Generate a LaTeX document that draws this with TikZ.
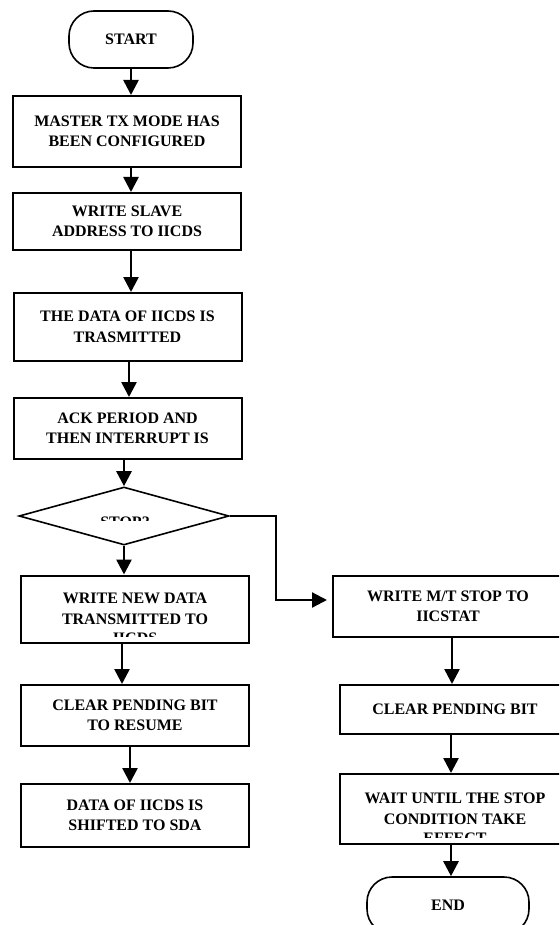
\documentclass[tikz,border=0pt]{standalone}
\usepackage{fontspec}
\setmainfont{Liberation Serif}
\usetikzlibrary{arrows.meta,shapes.geometric}

\begin{document}
\begin{tikzpicture}[x=1pt,y=-1pt]
        \useasboundingbox (0,0) rectangle (559,925);
        \clip (0,0) rectangle (559,925);
        \begin{scope}[every node/.style={rectangle,draw,line width=2pt,inner sep=0pt,align=center,
                minimum width=228,font=\bfseries\fontsize{16}{20.5}\selectfont}]
            \node (start) [rounded corners=25pt,line width=1.6pt,minimum width=124,minimum height=57] at (131,39.5) {START};
            \node (b1) [minimum height=71] at (127,131.5) {MASTER TX MODE HAS\\BEEN CONFIGURED};
            \node (b2) [minimum height=57] at (127,221.5) {WRITE SLAVE\\ADDRESS TO IICDS};
            \node (b3) [minimum height=68] at (127.5,327) {THE DATA OF IICDS IS\\TRASMITTED};
            \node (b4) [minimum height=61] at (127.5,428.5) {ACK PERIOD AND\\THEN INTERRUPT IS};
            \node (stop) [diamond,aspect=3.6,line width=1.6pt,minimum width=210,minimum height=58] at (124,516) {};
            \node (b5) [minimum height=67] at (135,609) {WRITE NEW DATA\\TRANSMITTED TO};
            \node (b6) [minimum height=61] at (135,715.5) {CLEAR PENDING BIT\\TO RESUME};
            \node (b7) [minimum height=63] at (135,815.5) {DATA OF IICDS IS\\SHIFTED TO SDA};
            \node (r1) [minimum width=230,minimum height=61] at (448,606.5) {WRITE M/T STOP TO\\IICSTAT};
            \node (r2) [minimum width=230,minimum height=49] at (455,709.5) {CLEAR PENDING BIT};
            \node (r3) [minimum width=230,minimum height=70] at (455,809) {WAIT UNTIL THE STOP\\CONDITION TAKE};
            \node (end) [rounded corners=25pt,line width=1.6pt,minimum width=162,minimum height=57] at (448,905.5) {END};
            % text cut off by the boxes
            \begin{scope}
                \clip (0,505) rectangle (559,520);
                \node (stoptext) [draw=none,minimum width=0,anchor=base] at (125,527) {STOP?};
            \end{scope}
            \begin{scope}
                \clip (0,625) rectangle (559,636.5);
                \node (b5rest) [draw=none,minimum width=0,anchor=base] at (135,643.5) {IICDS};
            \end{scope}
            \begin{scope}
                \clip (0,825) rectangle (559,837);
                \node (r3rest) [draw=none,minimum width=0,anchor=base] at (455,843.5) {EFFECT};
            \end{scope}
        \end{scope}
        \begin{scope}[every edge/.style={draw,line width=2.6pt,-{Triangle[width=15pt,length=15pt]}}]
            \path
                (start.south) edge (start.south |- b1.north)
                ([xshift=4pt]b1.south) edge ([xshift=4pt]b1.south |- b2.north)
                ([xshift=4pt]b2.south) edge ([xshift=4pt]b2.south |- b3.north)
                ([xshift=1.5pt]b3.south) edge ([xshift=1.5pt]b3.south |- b4.north)
                (b4.south -| stop.north) edge (stop.north)
                (stop.south) edge (stop.south |- b5.north)
                ([xshift=-13pt]b5.south) edge ([xshift=-13pt]b5.south |- b6.north)
                ([xshift=-5pt]b6.south) edge ([xshift=-5pt]b6.south |- b7.north)
                ([xshift=4pt]r1.south) edge ([xshift=4pt]r1.south |- r2.north)
                ([xshift=-4pt]r2.south) edge ([xshift=-4pt]r2.south |- r3.north)
                ([xshift=-4pt]r3.south) edge ([xshift=-4pt]r3.south |- end.north);
            \draw [line width=2.2pt,-{Triangle[width=15pt,length=15pt]},shorten >=5pt]
                (stop.east) -- ++(46,0) |- ([yshift=6.5pt]r1.west);
        \end{scope}
    \end{tikzpicture}
\end{document}
